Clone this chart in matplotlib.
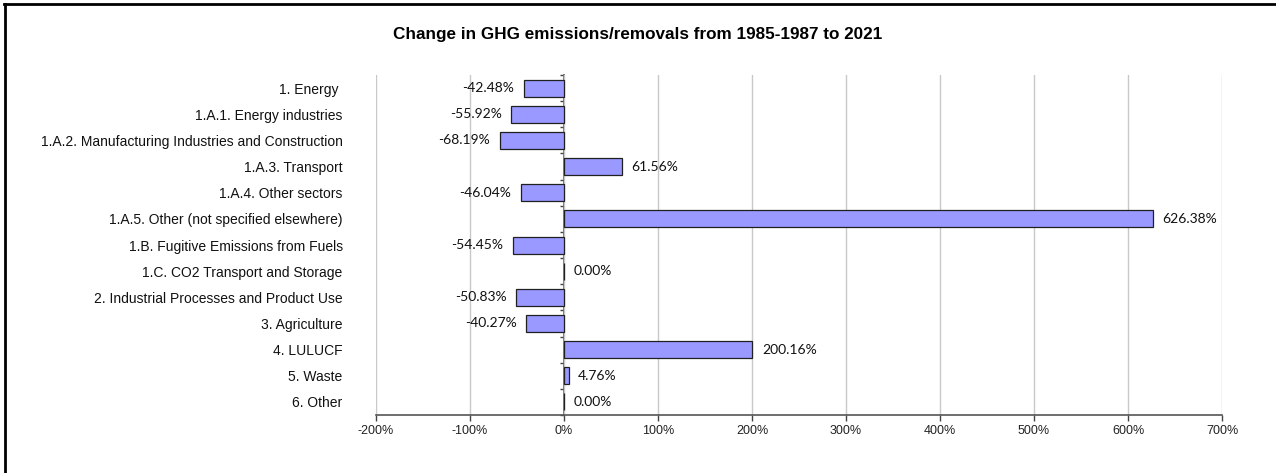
import matplotlib.pyplot as plt
from matplotlib.lines import Line2D
import numpy as np

categories = [
    '1. Energy ',
    '1.A.1. Energy industries',
    '1.A.2. Manufacturing Industries and Construction',
    '1.A.3. Transport',
    '1.A.4. Other sectors',
    '1.A.5. Other (not specified elsewhere)',
    '1.B. Fugitive Emissions from Fuels',
    '1.C. CO2 Transport and Storage',
    '2. Industrial Processes and Product Use',
    '3. Agriculture',
    '4. LULUCF',
    '5. Waste',
    '6. Other',
]
change_pct = [-42.48, -55.92, -68.19, 61.56, -46.04, 626.38, -54.45,
              0.00, -50.83, -40.27, 200.16, 4.76, 0.00]
x_ticks = [-200, -100, 0, 100, 200, 300, 400, 500, 600, 700]

fig = plt.figure(figsize=(12.76, 4.73), dpi=100)
ax = fig.add_axes([0.2947, 0.1226, 0.6630, 0.7188])

y = np.arange(len(categories))
bars = ax.barh(y, change_pct, height=0.65, color='#9999ff',
               edgecolor='#202020', linewidth=0.9, zorder=3)

# data labels
ax.bar_label(bars, labels=['%.2f%%' % v for v in change_pct], padding=7,
             fontsize=10, family='Lato', color='#111111')

ax.set_xlim(-200, 700)
ax.set_ylim(len(categories) - 0.5, -0.5)
ax.set_xticks(x_ticks)
ax.set_xticklabels(['%d%%' % t for t in x_ticks], fontsize=9,
                   family='Liberation Sans', color='#222222')
ax.set_yticks(y)
ax.set_yticklabels(categories, fontsize=10, family='Liberation Sans', color='#111111')
ax.tick_params(axis='y', length=0, pad=24)
ax.tick_params(axis='x', length=4, width=1, color='#444444', pad=3)

ax.grid(axis='x', color='#c8c8c8', linewidth=1, zorder=0)
ax.set_axisbelow(True)
for s in ['top', 'right', 'left']:
    ax.spines[s].set_visible(False)
ax.spines['bottom'].set_color('#555555')
ax.spines['bottom'].set_linewidth(1.2)

# value axis at zero with category boundary ticks
zero_pos = (0 - (-200)) / 900
sec = ax.secondary_yaxis(zero_pos)
sec.set_yticks(np.arange(len(categories) + 1) - 0.5)
sec.set_yticklabels([])
sec.tick_params(length=3, width=1, color='#444444')
sec.spines['left'].set_color('#555555')
sec.spines['left'].set_linewidth(1.2)

fig.text(0.5, 0.927, 'Change in GHG emissions/removals from 1985-1987 to 2021',
         ha='center', va='center', fontsize=12.3, fontweight='bold',
         family='Liberation Sans')

# figure border (left and top)
fig.add_artist(Line2D([0.004, 0.004], [0, 0.992], color='black', linewidth=2,
                      transform=fig.transFigure))
fig.add_artist(Line2D([0.003, 1], [0.992, 0.992], color='black', linewidth=2,
                      transform=fig.transFigure))

fig.savefig('out.png', dpi=100)
